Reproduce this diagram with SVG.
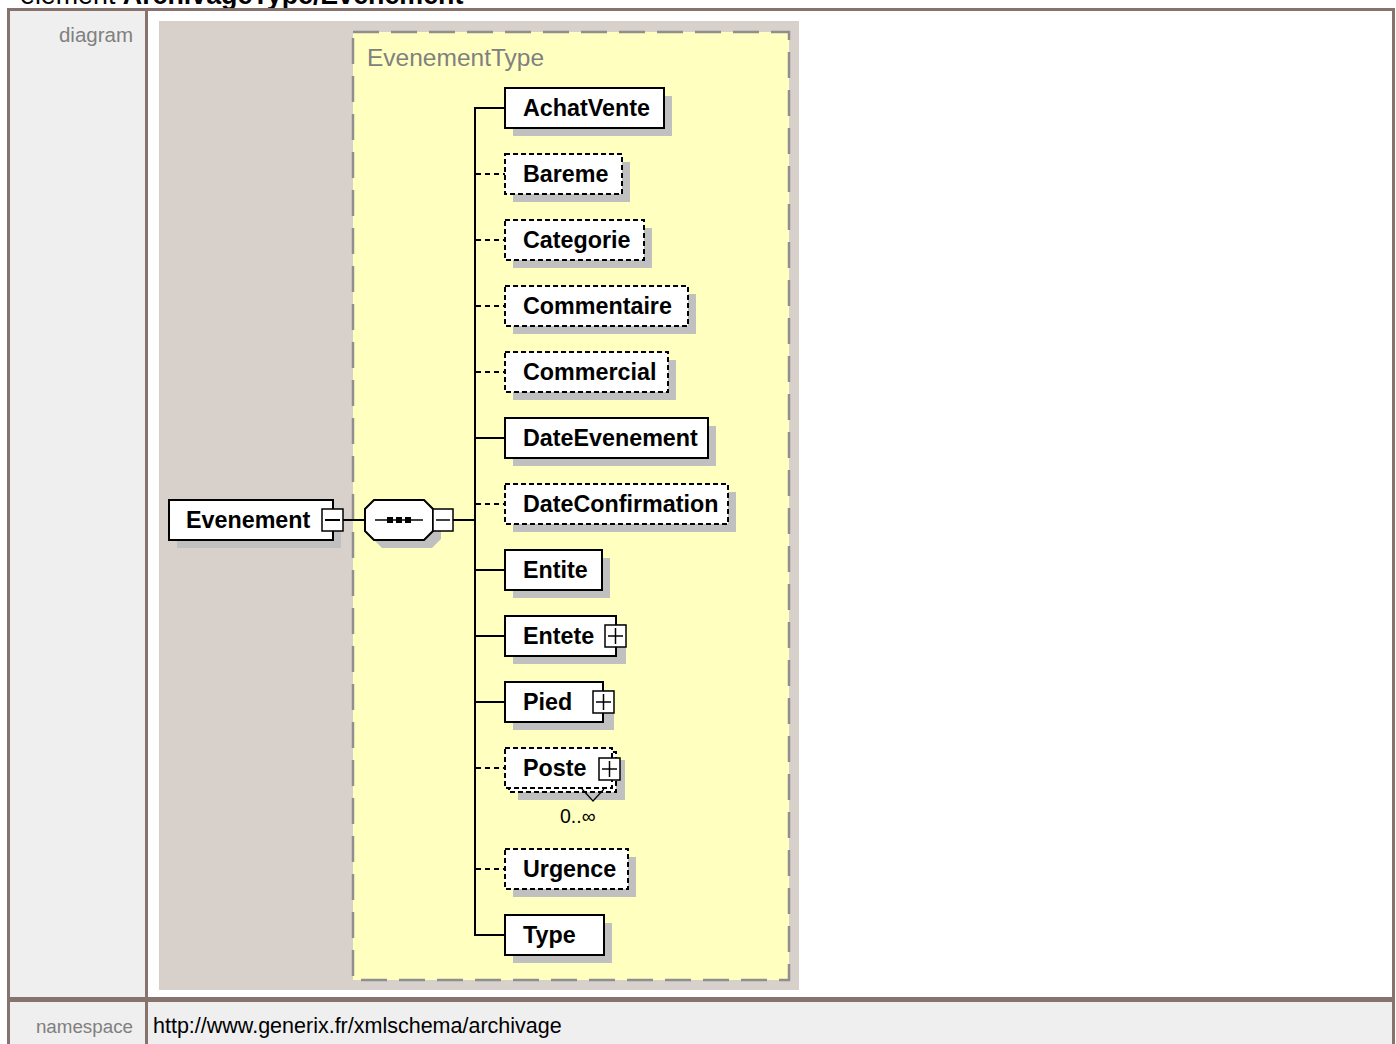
<svg xmlns="http://www.w3.org/2000/svg" width="1396" height="1044" viewBox="0 0 1396 1044">
<style>
.lbl{font-family:"Liberation Sans",Arial,sans-serif;fill:#808080}
.val{font-family:"Liberation Sans",Arial,sans-serif;font-size:21.5px;fill:#000}
.nt{font-family:"Liberation Sans",Arial,sans-serif;font-size:23.3px;font-weight:bold;fill:#000}
.box{fill:#fff;stroke:#000;stroke-width:2}
.opt{fill:#fff;stroke:#000;stroke-width:2;stroke-dasharray:5 3}
.sh{fill:#c0c0c0}
.pm{fill:#fff;stroke:#000;stroke-width:1.5}
.ln{stroke:#000;stroke-width:2;fill:none}
.dl{stroke:#000;stroke-width:2;fill:none;stroke-dasharray:5 4}
</style>
<rect width="1396" height="1044" fill="#fff"/>
<text x="20" y="4" font-family="'Liberation Sans',Arial,sans-serif" font-size="26.8" fill="#000">element <tspan font-weight="bold">ArchivageType/Evenement</tspan></text>
<rect x="7" y="8" width="1388" height="1036" fill="#86736d"/>
<rect x="10" y="11" width="135" height="986" fill="#efefef"/>
<rect x="148" y="11" width="1244" height="986" fill="#fff"/>
<rect x="10" y="1002" width="135" height="42" fill="#efefef"/>
<rect x="148" y="1002" width="1244" height="42" fill="#efefef"/>
<text class="lbl" x="133" y="42" text-anchor="end" font-size="20.5">diagram</text>
<text class="lbl" x="133" y="1033" text-anchor="end" font-size="18.8">namespace</text>
<text class="val" x="153" y="1033">http://www.generix.fr/xmlschema/archivage</text>
<rect x="159" y="21" width="640" height="969" fill="#d7d0cb"/>
<g id="EvenementType">
<rect x="353" y="32" width="436" height="948" fill="#ffffc0"/>
<rect x="353" y="32" width="436" height="948" fill="none" stroke="#8f8f8f" stroke-width="2.5" stroke-dasharray="26 12"/>
<text x="367" y="66" font-family="'Liberation Sans',Arial,sans-serif" font-size="24.5" fill="#808080">EvenementType</text>
</g>
<g id="connectors">
<line class="ln" x1="343" y1="520" x2="365" y2="520"/>
<line class="ln" x1="453" y1="520" x2="475" y2="520"/>
<line class="ln" x1="475" y1="107" x2="475" y2="936"/>
<line class="ln" x1="474" y1="108" x2="505" y2="108"/>
<line class="dl" x1="476" y1="174" x2="505" y2="174"/>
<line class="dl" x1="476" y1="240" x2="505" y2="240"/>
<line class="dl" x1="476" y1="306" x2="505" y2="306"/>
<line class="dl" x1="476" y1="372" x2="505" y2="372"/>
<line class="ln" x1="475" y1="438" x2="505" y2="438"/>
<line class="dl" x1="476" y1="504" x2="505" y2="504"/>
<line class="ln" x1="475" y1="570" x2="505" y2="570"/>
<line class="ln" x1="475" y1="636" x2="505" y2="636"/>
<line class="ln" x1="475" y1="702" x2="505" y2="702"/>
<line class="dl" x1="476" y1="768" x2="505" y2="768"/>
<line class="dl" x1="476" y1="869" x2="505" y2="869"/>
<line class="ln" x1="474" y1="935" x2="505" y2="935"/>
</g>
<g id="Evenement">
<rect class="sh" x="177" y="508" width="164" height="40"/>
<rect class="box" x="169" y="500" width="164" height="40"/>
<text class="nt" x="186" y="528">Evenement</text>
<rect class="pm" x="322" y="509" width="21" height="22"/>
<line class="ln" x1="325" y1="520" x2="340" y2="520" stroke-width="1.5"/>
</g>
<g id="sequence">
<polygon class="sh" points="382,508 432,508 441,517 441,539 432,548 382,548 373,539 373,517"/>
<polygon class="box" points="374,500 424,500 433,509 433,531 424,540 374,540 365,531 365,509"/>
<line x1="375" y1="520" x2="423" y2="520" stroke="#000" stroke-width="1.5"/>
<rect x="387" y="517" width="6" height="6" fill="#000"/>
<rect x="396" y="517" width="6" height="6" fill="#000"/>
<rect x="405" y="517" width="6" height="6" fill="#000"/>
<rect class="pm" x="433" y="509" width="20" height="22"/>
<line x1="436" y1="520" x2="450" y2="520" stroke="#000" stroke-width="1.5"/>
</g>
<g id="AchatVente">
<rect class="sh" x="513" y="96" width="159" height="40"/>
<rect class="box" x="505" y="88" width="159" height="40"/>
<text class="nt" x="523" y="116">AchatVente</text>
</g>
<g id="Bareme">
<rect class="sh" x="513" y="162" width="117" height="40"/>
<rect class="opt" x="505" y="154" width="117" height="40"/>
<text class="nt" x="523" y="182">Bareme</text>
</g>
<g id="Categorie">
<rect class="sh" x="513" y="228" width="139" height="40"/>
<rect class="opt" x="505" y="220" width="139" height="40"/>
<text class="nt" x="523" y="248">Categorie</text>
</g>
<g id="Commentaire">
<rect class="sh" x="513" y="294" width="183" height="40"/>
<rect class="opt" x="505" y="286" width="183" height="40"/>
<text class="nt" x="523" y="314">Commentaire</text>
</g>
<g id="Commercial">
<rect class="sh" x="513" y="360" width="163" height="40"/>
<rect class="opt" x="505" y="352" width="163" height="40"/>
<text class="nt" x="523" y="380">Commercial</text>
</g>
<g id="DateEvenement">
<rect class="sh" x="513" y="426" width="203" height="40"/>
<rect class="box" x="505" y="418" width="203" height="40"/>
<text class="nt" x="523" y="446">DateEvenement</text>
</g>
<g id="DateConfirmation">
<rect class="sh" x="513" y="492" width="223" height="40"/>
<rect class="opt" x="505" y="484" width="223" height="40"/>
<text class="nt" x="523" y="512">DateConfirmation</text>
</g>
<g id="Entite">
<rect class="sh" x="513" y="558" width="97" height="40"/>
<rect class="box" x="505" y="550" width="97" height="40"/>
<text class="nt" x="523" y="578">Entite</text>
</g>
<g id="Entete">
<rect class="sh" x="513" y="624" width="113" height="40"/>
<rect class="box" x="505" y="616" width="111" height="40"/>
<text class="nt" x="523" y="644">Entete</text>
<rect class="pm" x="605" y="625" width="21" height="22"/>
<line x1="608" y1="636" x2="623" y2="636" stroke="#000" stroke-width="1.5"/>
<line x1="615.5" y1="628" x2="615.5" y2="644" stroke="#000" stroke-width="1.5"/>
</g>
<g id="Pied">
<rect class="sh" x="513" y="690" width="101" height="40"/>
<rect class="box" x="505" y="682" width="98" height="40"/>
<text class="nt" x="523" y="710">Pied</text>
<rect class="pm" x="593" y="691" width="21" height="22"/>
<line x1="596" y1="702" x2="611" y2="702" stroke="#000" stroke-width="1.5"/>
<line x1="603.5" y1="694" x2="603.5" y2="710" stroke="#000" stroke-width="1.5"/>
</g>
<g id="Poste">
<rect class="sh" x="518" y="760" width="107" height="40"/>
<rect class="opt" x="509" y="752" width="107" height="40"/>
<rect class="opt" x="505" y="748" width="107" height="40"/>
<text class="nt" x="523" y="776">Poste</text>
<rect class="pm" x="599" y="758" width="21" height="22"/>
<line x1="602" y1="769" x2="617" y2="769" stroke="#000" stroke-width="1.5"/>
<line x1="609.5" y1="761" x2="609.5" y2="777" stroke="#000" stroke-width="1.5"/>
<polyline points="582,789 593,801 604,789" fill="none" stroke="#000" stroke-width="1.2"/>
<text x="560" y="823" font-family="'Liberation Sans',Arial,sans-serif" font-size="19.5" fill="#000">0..∞</text>
</g>
<g id="Urgence">
<rect class="sh" x="513" y="857" width="123" height="40"/>
<rect class="opt" x="505" y="849" width="123" height="40"/>
<text class="nt" x="523" y="877">Urgence</text>
</g>
<g id="Type">
<rect class="sh" x="513" y="923" width="99" height="40"/>
<rect class="box" x="505" y="915" width="99" height="40"/>
<text class="nt" x="523" y="943">Type</text>
</g>
</svg>
